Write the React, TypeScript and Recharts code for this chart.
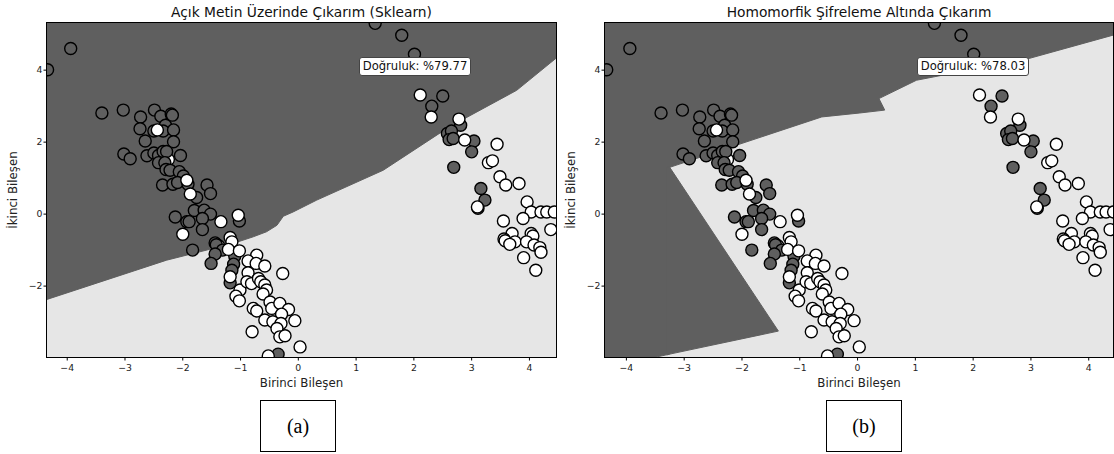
import React from 'react';
import { ComposedChart, Scatter, Area, XAxis, YAxis } from 'recharts';

// axis setup
const xTicks = [-4, -3, -2, -1, 0, 1, 2, 3, 4];
const yTicks = [-2, 0, 2, 4];
const Y_DOMAIN: [number, number] = [-3.97, 5.31];

// test points, coloured by true class
const darkPoints: [number, number][] = [
  [-3.94, 4.6], [-4.34, 4.01], [-3.4, 2.81], [-3.03, 2.89], [-2.73, 2.7], [-2.49, 2.89],
  [-2.38, 2.72], [-2.2, 2.78], [-2.18, 2.75], [-2.3, 2.47], [-2.74, 2.37], [-2.5, 2.31],
  [-2.34, 2.31], [-2.16, 2.34], [-2.65, 2.03], [-2.16, 2.01], [-3.02, 1.67], [-2.91, 1.54],
  [-2.62, 1.62], [-2.5, 1.7], [-2.42, 1.63], [-2.34, 1.74], [-2.28, 1.74], [-2.42, 1.43],
  [-2.31, 1.43], [-2.04, 1.63], [-2.29, 1.24], [-2.22, 1.22], [-2.06, 1.18], [-1.99, 1.06],
  [-2.35, 0.81], [-2.17, 0.83], [-2.09, 0.88], [-1.91, 0.83], [-1.58, 0.81], [-1.76, 0.46],
  [-1.52, 0.57], [-1.8, 0.1], [-1.63, 0.11], [-1.52, 0.0], [-2.13, -0.08], [-1.66, -0.12],
  [-1.93, -0.21], [-1.89, -0.21], [-1.02, -0.19], [-1.66, -0.43], [-1.83, -1.0], [-1.44, -0.8],
  [-1.42, -0.85], [-1.31, -1.0], [-1.44, -1.11], [-1.51, -1.37], [-1.1, -1.17], [-1.12, -1.39],
  [-1.15, -1.56], [-1.18, -1.91], [-0.35, -3.89],
  [1.33, 5.3], [1.79, 4.97], [2.01, 4.44],
  [2.5, 3.28], [2.31, 3.0], [2.81, 2.47], [2.58, 2.24], [2.65, 2.31], [2.61, 2.07], [2.68, 2.1],
  [3.04, 2.03], [3.0, 1.73], [2.69, 1.3], [3.16, 0.71], [3.23, 0.39], [3.11, 0.16],
];

// light points partly hidden under dark ones
const lightBehind: [number, number][] = [
  [-2.25, 1.52], [-1.38, -0.88],
];

const lightPoints: [number, number][] = [
  [-2.44, 2.34], [-1.93, 0.94], [-1.87, 0.56], [-1.04, -0.03], [-1.34, -0.21],
  [-2.0, -0.56], [-1.18, -0.65], [-1.15, -0.77], [-1.21, -0.98], [-1.18, -1.74],
  [-1.02, -1.02], [-1.01, -2.11], [-1.08, -2.28], [-1.02, -2.41], [-0.72, -1.14], [-0.87, -1.3],
  [-0.73, -1.37], [-0.58, -1.44], [-0.87, -1.63], [-0.89, -1.88], [-0.81, -1.93], [-0.69, -1.79],
  [-0.65, -1.88], [-0.58, -1.97], [-0.55, -2.11], [-0.27, -1.65], [-0.61, -2.22], [-0.49, -2.44],
  [-0.78, -2.62], [-0.72, -2.69], [-0.46, -2.62], [-0.32, -2.48], [-0.17, -2.65], [-0.29, -2.78],
  [-0.58, -2.94], [-0.44, -2.99], [-0.3, -3.04], [-0.06, -2.96], [-0.8, -3.27], [-0.37, -3.18],
  [-0.32, -3.41], [-0.23, -3.38], [-0.52, -3.94], [0.03, -3.69],
  [2.11, 3.31], [2.3, 2.7], [2.78, 2.64], [2.88, 2.06], [3.44, 1.94], [3.29, 1.43], [3.36, 1.48],
  [3.49, 1.04], [3.59, 0.81], [3.82, 0.85], [3.1, 0.2], [3.96, 0.34], [4.03, 0.06], [4.2, 0.06],
  [4.3, 0.06], [4.43, 0.06], [3.89, -0.12], [3.55, -0.19], [3.7, -0.54], [3.56, -0.69],
  [3.58, -0.74], [3.75, -0.77], [3.66, -0.84], [4.03, -0.54], [4.06, -0.61], [3.95, -0.77],
  [4.08, -0.86], [4.18, -0.93], [4.2, -1.06], [4.37, -0.43], [3.9, -1.21], [4.11, -1.56],
];

// decision regions: dark class lies above these edges
const sklearnEdge: [number, number][] = [
  [-4.35, -2.37], [-2.28, -1.28], [-1.12, -0.81], [-0.78, -0.63], [-0.55, -0.49],
  [-0.37, -0.31], [-0.26, -0.06], [-0.09, 0.06], [0.32, 0.39], [1.47, 1.22],
  [2.62, 2.43], [3.78, 3.44], [4.46, 4.33],
];
const heUpperEdge: [number, number][] = [
  [-4.37, -3.97], [-3.48, -3.97], [-3.25, -3.89], [-3.25, 1.3], [-0.62, 2.7], [0.04, 2.81],
  [0.47, 2.89], [0.37, 3.21], [1.02, 3.72], [2.98, 4.33], [4.46, 4.99],
];
// lower-left wedge of the HE model: [x, low, high]
const heWedge: [number, number, number][] = [
  [-3.3, -3.91, 1.3], [-3.25, -3.89, 1.3], [-1.37, -3.25, -3.25],
];

const DARK = '#5f5f5f';
const LIGHT = '#e6e6e6';
const FONT = '"DejaVu Sans", sans-serif';

type Band = { x: number; lo: number; hi: number };

const above = (edge: [number, number][]): Band[] =>
  edge.map(([x, y]) => ({ x, lo: y, hi: Y_DOMAIN[1] }));
const between = (rows: [number, number, number][]): Band[] =>
  rows.map(([x, lo, hi]) => ({ x, lo, hi }));

const toXY = (pts: [number, number][]) => pts.map(([x, y]) => ({ x, y }));
const darkData = toXY(darkPoints);
const behindData = toXY(lightBehind);
const lightData = toXY(lightPoints);

const fmt = (v: number) => (v < 0 ? '\u2212' + Math.abs(v) : String(v));

const dot = (fill: string) => (p: any) => (
  <circle cx={p.cx} cy={p.cy} r={6} fill={fill} stroke="#000" strokeWidth={1.4} />
);

interface PanelProps {
  left: number;
  xDomain: [number, number];
  rightMargin: number;
  title: string;
  accuracy: string;
  caption: string;
  captionLeft: number;
  regions: Band[][];
}

const Panel: React.FC<PanelProps> = ({ left, xDomain, rightMargin, title, accuracy, caption, captionLeft, regions }) => {
  const plotW = 560 - 47 - rightMargin;
  const cx = 47 + plotW / 2;
  return (
    <div style={{ position: 'absolute', left, top: 0, width: 560, height: 454 }}>
      <div style={{ position: 'absolute', left: 47, top: 23, width: plotW, height: 334, background: LIGHT }} />
      <div style={{ position: 'absolute', left: 0, top: 0 }}>
        <ComposedChart width={560} height={400} margin={{ top: 23, right: rightMargin, bottom: 0, left: 0 }}>
          <XAxis
            type="number"
            dataKey="x"
            domain={xDomain}
            allowDataOverflow
            ticks={xTicks}
            tickFormatter={fmt}
            height={43}
            axisLine={false}
            tickSize={3.5}
            tickMargin={4}
            tickLine={{ stroke: '#000' }}
            tick={{ fill: '#222', fontSize: 9.3, fontFamily: FONT }}
          />
          <YAxis
            type="number"
            dataKey="y"
            domain={Y_DOMAIN}
            allowDataOverflow
            ticks={yTicks}
            tickFormatter={fmt}
            width={47}
            axisLine={false}
            tickSize={3.5}
            tickMargin={1}
            tickLine={{ stroke: '#000' }}
            tick={{ fill: '#222', fontSize: 9.3, fontFamily: FONT }}
          />
          {regions.map((band, i) => (
            <Area
              key={i}
              data={band}
              dataKey={(d: Band) => [d.lo, d.hi]}
              type="linear"
              fill={DARK}
              fillOpacity={1}
              stroke={DARK}
              strokeWidth={1}
              dot={false}
              activeDot={false}
              isAnimationActive={false}
            />
          ))}
          <Scatter data={behindData} dataKey="y" shape={dot('#ffffff')} isAnimationActive={false} />
          <Scatter data={darkData} dataKey="y" shape={dot(DARK)} isAnimationActive={false} />
          <Scatter data={lightData} dataKey="y" shape={dot('#ffffff')} isAnimationActive={false} />
        </ComposedChart>
      </div>
      {/* frame */}
      <div style={{ position: 'absolute', left: 46, top: 22, width: plotW + 2, height: 336, boxSizing: 'border-box', border: '1px solid #000', pointerEvents: 'none' }} />
      {/* title */}
      <div style={{ position: 'absolute', left: cx, top: 12.6, transform: 'translate(-50%, -50%)', whiteSpace: 'nowrap', fontFamily: FONT, fontSize: 13.8, lineHeight: 1, color: '#111' }}>
        {title}
      </div>
      {/* x label */}
      <div style={{ position: 'absolute', left: cx, top: 384, transform: 'translate(-50%, -50%)', whiteSpace: 'nowrap', fontFamily: FONT, fontSize: 11.8, lineHeight: 1, color: '#222' }}>
        Birinci Bileşen
      </div>
      {/* y label */}
      <div style={{ position: 'absolute', left: 14, top: 190, transform: 'translate(-50%, -50%) rotate(-90deg)', whiteSpace: 'nowrap', fontFamily: FONT, fontSize: 11.8, lineHeight: 1, color: '#222' }}>
        İkinci Bileşen
      </div>
      {/* accuracy box */}
      <div style={{ position: 'absolute', left: 359, top: 56.5, width: 112, height: 19, boxSizing: 'border-box', border: '1px solid #444', borderRadius: 3, background: '#fff', fontFamily: FONT, fontSize: 11.6, lineHeight: '17px', textAlign: 'center', color: '#111', whiteSpace: 'nowrap' }}>
        {accuracy}
      </div>
      {/* caption */}
      <div style={{ position: 'absolute', left: captionLeft, top: 400, width: 76, height: 52, boxSizing: 'border-box', border: '1px solid #000', fontFamily: '"Liberation Serif", serif', fontSize: 20, lineHeight: '50px', textAlign: 'center', color: '#000' }}>
        {caption}
      </div>
    </div>
  );
};

export default function App() {
  return (
    <div style={{ position: 'absolute', left: 0, top: 0, width: 1114, height: 454, overflow: 'hidden', background: '#fff' }}>
      <Panel
        left={0}
        xDomain={[-4.35, 4.46]}
        rightMargin={4}
        title="Açık Metin Üzerinde Çıkarım (Sklearn)"
        accuracy="Doğruluk: %79.77"
        caption="(a)"
        captionLeft={260}
        regions={[above(sklearnEdge)]}
      />
      <Panel
        left={558}
        xDomain={[-4.37, 4.42]}
        rightMargin={5}
        title="Homomorfik Şifreleme Altında Çıkarım"
        accuracy="Doğruluk: %78.03"
        caption="(b)"
        captionLeft={268}
        regions={[above(heUpperEdge), between(heWedge)]}
      />
    </div>
  );
}
